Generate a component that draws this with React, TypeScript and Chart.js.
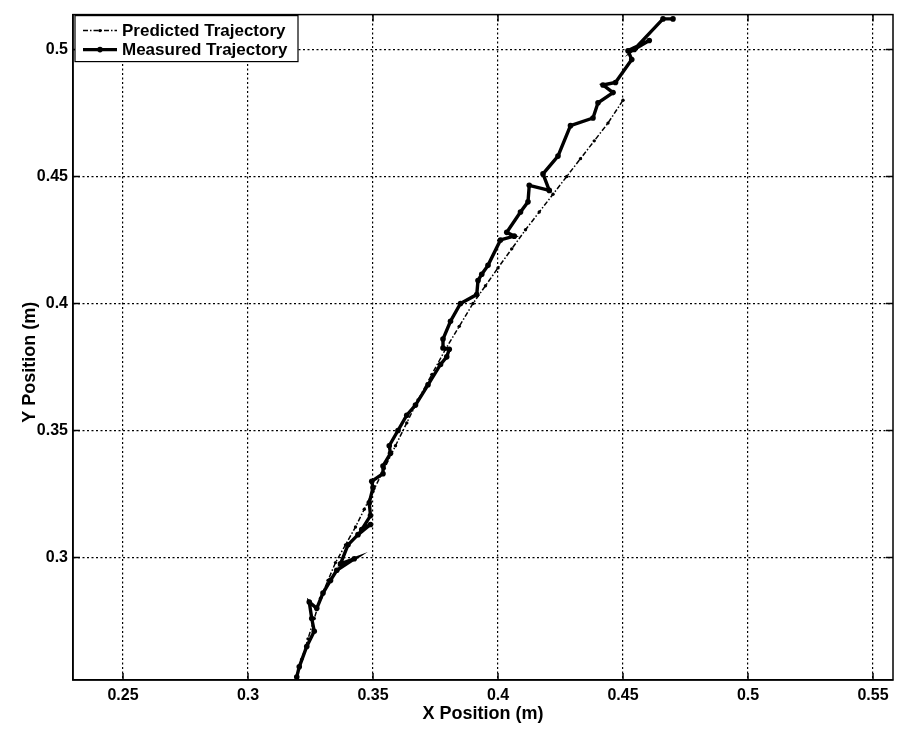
import { useEffect, useRef } from "react";
import { Chart, registerables } from "chart.js";

Chart.register(...registerables);

// ---- data (metres) ----
const predictedX = [
  0.3195, 0.3215, 0.324, 0.3265, 0.329, 0.332, 0.335, 0.339, 0.343, 0.3465,
  0.35, 0.3545, 0.359, 0.3635, 0.368, 0.3735, 0.379, 0.3845, 0.39, 0.395,
  0.4, 0.4055, 0.411, 0.4165, 0.422, 0.4275, 0.433, 0.4385, 0.444, 0.45,
];
const predictedY = [
  0.253, 0.26, 0.268, 0.276, 0.284, 0.291, 0.298, 0.305, 0.312, 0.319,
  0.326, 0.335, 0.344, 0.353, 0.362, 0.372, 0.382, 0.391, 0.4, 0.407,
  0.414, 0.4215, 0.429, 0.436, 0.443, 0.45, 0.457, 0.464, 0.471, 0.48,
];
const measuredX = [
  0.3195, 0.3205, 0.3235, 0.3265, 0.3255, 0.3245, 0.3275, 0.33, 0.333, 0.3355,
  0.3425, 0.337, 0.34, 0.344, 0.349, 0.3455, 0.349, 0.3485, 0.35, 0.3495,
  0.354, 0.354, 0.357, 0.3565, 0.36, 0.3635, 0.367, 0.372, 0.377, 0.3795,
  0.3805, 0.378, 0.378, 0.381, 0.385, 0.3915, 0.392, 0.3935, 0.396, 0.401,
  0.4065, 0.4035, 0.409, 0.412, 0.4125, 0.4205, 0.418, 0.424, 0.429, 0.438,
  0.44, 0.446, 0.442, 0.447, 0.4535, 0.452, 0.4605, 0.4545, 0.466, 0.47,
];
const measuredY = [
  0.253, 0.257, 0.265, 0.271, 0.276, 0.2825, 0.28, 0.286, 0.291, 0.295,
  0.2995, 0.2975, 0.305, 0.309, 0.313, 0.311, 0.3165, 0.3215, 0.3275, 0.33,
  0.333, 0.336, 0.341, 0.344, 0.35, 0.356, 0.36, 0.368, 0.376, 0.379,
  0.382, 0.3825, 0.386, 0.393, 0.4, 0.4035, 0.409, 0.4115, 0.415, 0.425,
  0.4265, 0.428, 0.436, 0.44, 0.4465, 0.4445, 0.451, 0.458, 0.47, 0.473,
  0.479, 0.483, 0.486, 0.487, 0.496, 0.4995, 0.5035, 0.5, 0.512, 0.512,
];

const xTicks = [0.25, 0.3, 0.35, 0.4, 0.45, 0.5, 0.55];
const yTicks = [0.3, 0.35, 0.4, 0.45, 0.5];
const xRange = [0.23, 0.558];
const yRange = [0.2518, 0.5137];
const seriesLabels = ["Predicted Trajectory", "Measured Trajectory"];
const axisTitles = ["X Position (m)", "Y Position (m)"];

const FONT = '"Liberation Sans", Arial, Helvetica, sans-serif';
const PRED_DASH = [5, 2, 1.5, 2];

const fmt = (v: number) => String(+Number(v).toFixed(3));

const framePlugin = {
  id: "matlabFrame",
  afterDraw(chart: any) {
    const { ctx, chartArea: a, scales } = chart;
    ctx.save();
    // frame
    ctx.strokeStyle = "#000";
    ctx.lineWidth = 1.5;
    ctx.setLineDash([]);
    ctx.strokeRect(a.left, a.top, a.right - a.left, a.bottom - a.top);
    // inward tick marks
    const tl = 7;
    ctx.beginPath();
    scales.x.ticks.forEach((t: any) => {
      const px = scales.x.getPixelForValue(t.value);
      ctx.moveTo(px, a.bottom);
      ctx.lineTo(px, a.bottom - tl);
      ctx.moveTo(px, a.top);
      ctx.lineTo(px, a.top + tl);
    });
    scales.y.ticks.forEach((t: any) => {
      const py = scales.y.getPixelForValue(t.value);
      ctx.moveTo(a.left, py);
      ctx.lineTo(a.left + tl, py);
      ctx.moveTo(a.right, py);
      ctx.lineTo(a.right - tl, py);
    });
    ctx.stroke();

    // y axis title
    ctx.save();
    ctx.translate(30, (a.top + a.bottom) / 2 + 15);
    ctx.rotate(-Math.PI / 2);
    ctx.fillStyle = "#000";
    ctx.font = `bold 18px ${FONT}`;
    ctx.textAlign = "center";
    ctx.textBaseline = "middle";
    ctx.fillText(axisTitles[1], 0, 0);
    ctx.restore();

    // legend box
    const bx = a.left + 2;
    const by = a.top + 1;
    const bw = 223;
    const bh = 46;
    ctx.fillStyle = "#fff";
    ctx.fillRect(bx, by, bw, bh);
    ctx.strokeStyle = "#000";
    ctx.lineWidth = 1.2;
    ctx.strokeRect(bx, by, bw, bh);

    const rows = [by + 15, by + 34];
    const x1 = bx + 8;
    const x2 = bx + 42;
    // predicted sample
    ctx.lineWidth = 1.5;
    ctx.setLineDash(PRED_DASH);
    ctx.beginPath();
    ctx.moveTo(x1, rows[0]);
    ctx.lineTo(x2, rows[0]);
    ctx.stroke();
    ctx.setLineDash([]);
    ctx.fillStyle = "#000";
    ctx.beginPath();
    ctx.arc((x1 + x2) / 2, rows[0], 1.7, 0, Math.PI * 2);
    ctx.fill();
    // measured sample
    ctx.lineWidth = 3.4;
    ctx.beginPath();
    ctx.moveTo(x1, rows[1]);
    ctx.lineTo(x2, rows[1]);
    ctx.stroke();
    ctx.beginPath();
    ctx.arc((x1 + x2) / 2, rows[1], 2.8, 0, Math.PI * 2);
    ctx.fill();

    ctx.font = `bold 17px ${FONT}`;
    ctx.textAlign = "left";
    ctx.textBaseline = "middle";
    ctx.fillText(seriesLabels[0], bx + 47, rows[0] + 1);
    ctx.fillText(seriesLabels[1], bx + 47, rows[1] + 1);
    ctx.restore();
  },
};

export default function App() {
  const ref = useRef<HTMLCanvasElement | null>(null);

  useEffect(() => {
    document.body.style.margin = "0";
    const canvas = ref.current;
    if (!canvas) return;

    const predicted = predictedX.map((x, i) => ({ x, y: predictedY[i] }));
    const measured = measuredX.map((x, i) => ({ x, y: measuredY[i] }));

    const chart = new Chart(canvas, {
      type: "scatter",
      data: {
        datasets: [
          {
            label: seriesLabels[1],
            data: measured,
            showLine: true,
            borderColor: "#000",
            backgroundColor: "#000",
            borderWidth: 3.4,
            pointRadius: 2.8,
            pointBorderWidth: 0,
            pointBackgroundColor: "#000",
            order: 0,
          },
          {
            label: seriesLabels[0],
            data: predicted,
            showLine: true,
            borderColor: "#000",
            backgroundColor: "#000",
            borderWidth: 1.5,
            borderDash: PRED_DASH,
            pointRadius: 1.7,
            pointBorderWidth: 0,
            pointBackgroundColor: "#000",
            order: 1,
          },
        ],
      },
      options: {
        responsive: false,
        animation: false,
        layout: { padding: { top: 12, right: 4, left: 0, bottom: 0 } },
        plugins: {
          legend: { display: false },
          tooltip: { enabled: false },
        },
        scales: {
          x: {
            type: "linear",
            min: xRange[0],
            max: xRange[1],
            afterBuildTicks: (scale: any) => {
              scale.ticks = xTicks.map((v) => ({ value: v }));
            },
            afterFit: (scale: any) => {
              scale.height = 51;
            },
            grid: {
              color: "#000",
              lineWidth: 1.2,
              drawTicks: false,
            },
            border: { display: true, color: "#000", width: 1.5, dash: [2, 2.5] },
            ticks: {
              color: "#000",
              padding: 6,
              maxRotation: 0,
              autoSkip: false,
              font: { family: FONT, size: 16, weight: "bold" },
              callback: (v: any) => fmt(v),
            },
            title: {
              display: true,
              text: axisTitles[0],
              color: "#000",
              font: { family: FONT, size: 18, weight: "bold" },
              padding: { top: 0, bottom: 6 },
            },
          },
          y: {
            type: "linear",
            min: yRange[0],
            max: yRange[1],
            afterBuildTicks: (scale: any) => {
              scale.ticks = yTicks.map((v) => ({ value: v }));
            },
            afterFit: (scale: any) => {
              scale.width = 73;
            },
            grid: {
              color: "#000",
              lineWidth: 1.2,
              drawTicks: false,
            },
            border: { display: true, color: "#000", width: 1.5, dash: [2, 2.5] },
            ticks: {
              color: "#000",
              padding: 5,
              autoSkip: false,
              font: { family: FONT, size: 16, weight: "bold" },
              callback: (v: any) => fmt(v),
            },
          },
        },
      },
      plugins: [framePlugin],
    } as any);

    return () => chart.destroy();
  }, []);

  return (
    <canvas
      ref={ref}
      width={897}
      height={731}
      style={{ display: "block", width: 897, height: 731 }}
    />
  );
}
